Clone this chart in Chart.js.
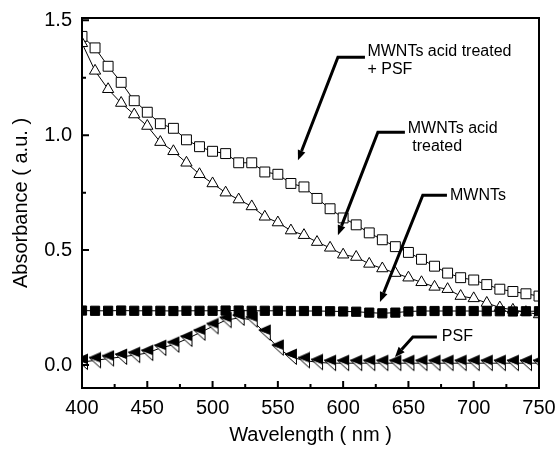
<!DOCTYPE html>
<html lang="en">
<head>
  <meta charset="UTF-8">
  <title>Absorbance spectra</title>
  <style>
    html, body { margin: 0; padding: 0; background: #fff; }
    #wrap { width: 557px; height: 451px; }
  </style>
</head>
<body>
<div id="wrap"><canvas id="absChart"></canvas></div>

<script src="https://cdn.jsdelivr.net/npm/chart.js"></script>
<script>
  // wavelength (nm), one point every 10 nm
  const wavelengths = [400, 410, 420, 430, 440, 450, 460, 470, 480, 490, 500, 510,
                       520, 530, 540, 550, 560, 570, 580, 590, 600, 610, 620, 630,
                       640, 650, 660, 670, 680, 690, 700, 710, 720, 730, 740, 750];

  // absorbance (a.u.)
  const acidPsf = [1.43, 1.38, 1.30, 1.23, 1.15, 1.10, 1.05, 1.03, 0.98, 0.95, 0.93, 0.92,
                   0.88, 0.88, 0.84, 0.83, 0.79, 0.775, 0.725, 0.68, 0.64, 0.61, 0.575, 0.545,
                   0.515, 0.49, 0.46, 0.43, 0.40, 0.38, 0.37, 0.35, 0.33, 0.32, 0.31, 0.30];
  const acidTreated = [1.40, 1.28, 1.20, 1.14, 1.09, 1.04, 0.97, 0.93, 0.88, 0.83, 0.79, 0.75,
                       0.72, 0.69, 0.645, 0.62, 0.585, 0.565, 0.535, 0.51, 0.48, 0.47, 0.44, 0.42,
                       0.40, 0.38, 0.36, 0.34, 0.33, 0.30, 0.29, 0.27, 0.25, 0.24, 0.23, 0.22];
  const mwnts = [0.237, 0.236, 0.236, 0.237, 0.236, 0.236, 0.236, 0.235, 0.236, 0.236, 0.236, 0.237,
                 0.237, 0.236, 0.236, 0.236, 0.235, 0.235, 0.235, 0.234, 0.233, 0.232, 0.228, 0.225,
                 0.228, 0.233, 0.235, 0.235, 0.235, 0.235, 0.235, 0.234, 0.234, 0.233, 0.234, 0.234];
  const psf = [0.013, 0.02, 0.028, 0.035, 0.043, 0.052, 0.074, 0.088, 0.113, 0.14, 0.168, 0.195,
               0.205, 0.197, 0.14, 0.075, 0.035, 0.02, 0.012, 0.008, 0.008, 0.008, 0.008, 0.008,
               0.008, 0.008, 0.008, 0.008, 0.008, 0.008, 0.008, 0.008, 0.008, 0.008, 0.008, 0.008];

  // axis ticks
  const xTicks = [400, 450, 500, 550, 600, 650, 700, 750];
  const xMinorTicks = [425, 475, 525, 575, 625, 675, 725];
  const yTicks = [0, 0.5, 1.0, 1.5];
  const yMinorTicks = [0.25, 0.75, 1.25];

  // arrow labels, in data units: text, text anchor, elbow, end of the short bar, arrow tip
  const noteText = [['MWNTs acid treated', '+ PSF'], ['MWNTs acid', ' treated'], ['MWNTs'], ['PSF']];
  const noteTextAt = [[618.6, 1.365], [649.5, 1.03], [681.8, 0.739], [675.6, 0.122]];
  const noteElbow = [[596, 1.339], [626.6, 1.013], [661, 0.739], [653.4, 0.122]];
  const noteBarEnd = [[616.7, 1.339], [647.3, 1.013], [679.5, 0.739], [671.8, 0.122]];
  const noteTip = [[565.4, 0.891], [596, 0.565], [628.2, 0.274], [639.7, 0.035]];

  const FONT = '"Liberation Sans", Arial, sans-serif';
  const pairs = ys => wavelengths.map((w, i) => ({ x: w, y: ys[i] }));

  // PSF marker: black left triangle with an open lower half
  function psfMarker() {
    const c = document.createElement('canvas');
    c.width = 14; c.height = 18;
    const g = c.getContext('2d');
    g.fillStyle = '#fff';
    g.strokeStyle = '#000';
    g.lineWidth = 1;
    g.beginPath();
    g.moveTo(1, 6); g.lineTo(12.5, 10.5); g.lineTo(12.5, 16.5); g.closePath();
    g.fill(); g.stroke();
    g.fillStyle = '#000';
    g.beginPath();
    g.moveTo(0.5, 6); g.lineTo(13, 0.5); g.lineTo(13, 11); g.closePath();
    g.fill();
    return c;
  }

  const framePlugin = {
    id: 'frameAndNotes',
    afterDraw(chart) {
      const g = chart.ctx;
      const a = chart.chartArea;
      const xs = chart.scales.x, ys = chart.scales.y;
      g.save();
      g.strokeStyle = '#000';
      g.fillStyle = '#000';
      g.lineWidth = 2;
      g.strokeRect(a.left, a.top, a.right - a.left, a.bottom - a.top);

      // inward ticks
      g.beginPath();
      xTicks.forEach(v => { const p = xs.getPixelForValue(v); g.moveTo(p, a.bottom); g.lineTo(p, a.bottom - 7); });
      xMinorTicks.forEach(v => { const p = xs.getPixelForValue(v); g.moveTo(p, a.bottom); g.lineTo(p, a.bottom - 4); });
      yTicks.forEach(v => { const p = ys.getPixelForValue(v); g.moveTo(a.left, p); g.lineTo(a.left + 7, p); });
      yMinorTicks.forEach(v => { const p = ys.getPixelForValue(v); g.moveTo(a.left, p); g.lineTo(a.left + 4, p); });
      g.stroke();

      // arrows with labels
      g.font = '16px ' + FONT;
      g.textBaseline = 'middle';
      g.textAlign = 'left';
      noteText.forEach((lines, i) => {
        const ex = xs.getPixelForValue(noteElbow[i][0]), ey = ys.getPixelForValue(noteElbow[i][1]);
        const bx = xs.getPixelForValue(noteBarEnd[i][0]), by = ys.getPixelForValue(noteBarEnd[i][1]);
        const tx = xs.getPixelForValue(noteTip[i][0]), ty = ys.getPixelForValue(noteTip[i][1]);
        const ang = Math.atan2(ty - ey, tx - ex);
        const head = 10, half = 4;
        const sx = tx - Math.cos(ang) * head, sy = ty - Math.sin(ang) * head;

        g.lineWidth = 3;
        g.beginPath();
        g.moveTo(bx, by); g.lineTo(ex, ey); g.lineTo(sx, sy);
        g.stroke();
        g.beginPath();
        g.moveTo(tx, ty);
        g.lineTo(sx + Math.sin(ang) * half, sy - Math.cos(ang) * half);
        g.lineTo(sx - Math.sin(ang) * half, sy + Math.cos(ang) * half);
        g.closePath();
        g.fill();

        const lx = xs.getPixelForValue(noteTextAt[i][0]), ly = ys.getPixelForValue(noteTextAt[i][1]);
        lines.forEach((t, k) => g.fillText(t, lx, ly + k * 18));
      });
      g.restore();
    }
  };

  const absChart = new Chart(document.getElementById('absChart'), {
    type: 'line',
    data: {
      datasets: [
        {
          label: 'PSF',
          data: pairs(psf),
          borderColor: '#000',
          borderWidth: 1,
          pointStyle: psfMarker(),
          pointRadius: 6,
          clip: 0
        },
        {
          label: 'MWNTs',
          data: pairs(mwnts),
          borderColor: '#000',
          borderWidth: 1,
          pointStyle: 'rect',
          pointRadius: 6.5,
          pointBackgroundColor: '#000',
          pointBorderColor: '#000',
          pointBorderWidth: 1,
          clip: 0
        },
        {
          label: 'MWNTs acid treated',
          data: pairs(acidTreated),
          borderColor: '#000',
          borderWidth: 1,
          pointStyle: 'triangle',
          pointRadius: 6.5,
          pointBackgroundColor: '#fff',
          pointBorderColor: '#000',
          pointBorderWidth: 1,
          clip: 0
        },
        {
          label: 'MWNTs acid treated + PSF',
          data: pairs(acidPsf),
          borderColor: '#000',
          borderWidth: 1,
          pointStyle: 'rect',
          pointRadius: 7,
          pointBackgroundColor: '#fff',
          pointBorderColor: '#000',
          pointBorderWidth: 1,
          clip: 0
        }
      ]
    },
    options: {
      responsive: true,
      maintainAspectRatio: false,
      animation: false,
      layout: { padding: { top: 18, right: 18, left: 0, bottom: 0 } },
      plugins: {
        legend: { display: false },
        tooltip: { enabled: false }
      },
      scales: {
        x: {
          type: 'linear',
          min: 400,
          max: 750,
          afterBuildTicks: s => { s.ticks = xTicks.map(v => ({ value: v })); },
          afterFit: s => { s.height = 63; s.paddingLeft = 0; s.paddingRight = 0; },
          grid: { display: false, drawTicks: false },
          border: { display: false },
          ticks: {
            color: '#000',
            padding: 8,
            maxRotation: 0,
            font: { family: FONT, size: 20 },
            callback: v => String(v)
          },
          title: {
            display: true,
            text: 'Wavelength ( nm )',
            color: '#000',
            padding: { top: 0, bottom: 4 },
            font: { family: FONT, size: 20 }
          }
        },
        y: {
          min: -0.1,
          max: 1.51,
          afterBuildTicks: s => { s.ticks = yTicks.map(v => ({ value: v })); },
          afterFit: s => { s.width = 82; s.paddingTop = 0; s.paddingBottom = 0; },
          grid: { display: false, drawTicks: false },
          border: { display: false },
          ticks: {
            color: '#000',
            padding: 10,
            font: { family: FONT, size: 20 },
            callback: v => v.toFixed(1)
          },
          title: {
            display: true,
            text: 'Absorbance ( a.u. )',
            color: '#000',
            padding: { top: 9, bottom: 0 },
            font: { family: FONT, size: 20 }
          }
        }
      }
    },
    plugins: [framePlugin]
  });
</script>
</body>
</html>
